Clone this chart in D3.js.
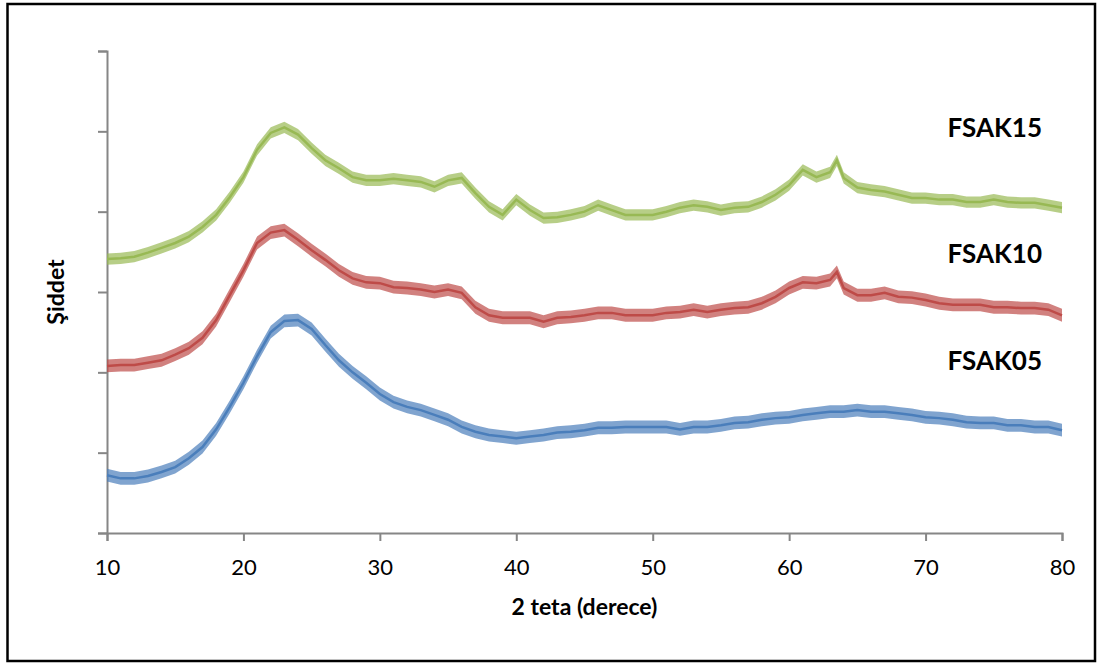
<!DOCTYPE html>
<html>
<head>
<meta charset="utf-8">
<script src="https://cdn.jsdelivr.net/npm/d3@7"></script>
<style>
  body { margin: 0; background: #fff; }
  svg text { font-family: Lato, "Open Sans", sans-serif; }
</style>
</head>
<body>
<div id="chart"></div>
<script>
// 2θ values (degrees) — shared by all three patterns
const angles = [10,11,12,13,14,15,16,17,18,19,20,21,22,23,24,25,26,27,28,29,
  30,31,32,33,34,35,36,37,38,39,40,41,42,43,44,45,46,47,48,49,
  50,51,52,53,54,55,56,57,58,59,60,61,62,63,63.5,64,65,66,67,68,69,
  70,71,72,73,74,75,76,77,78,79,80]

// intensities (arbitrary units; curves are stacked)
const fsak05 = [72,68,68,71,76,82,93,107,129,157,
  187,220,250,264,265,254,234,215,200,187,
  173,163,157,153,147,141,132,126,122,120,
  118,120,122,125,126,128,131,131,132,132,
  132,132,129,132,132,134,137,138,141,143,
  144,147,149,151,151,151,153,151,151,149,147,
  144,143,141,138,137,137,134,134,132,132,128]

const fsak10 = [208,209,209,212,215,222,230,243,265,296,
  327,361,374,377,365,352,340,327,317,312,
  311,306,305,303,300,303,299,281,271,268,
  268,268,263,268,269,271,274,274,271,271,
  271,274,275,278,275,278,280,281,286,294,
  305,312,311,315,325,305,296,296,299,294,293,
  290,286,284,284,284,281,281,280,280,278,271]

const fsak15 = [341,342,344,349,355,361,369,381,396,418,
  443,477,498,505,496,479,464,454,443,439,
  439,441,439,437,431,439,442,423,406,396,
  415,402,392,393,396,400,408,402,396,396,
  396,400,405,408,406,402,405,406,412,421,
  433,452,443,449,464,442,430,427,425,421,417,
  417,415,415,412,412,415,412,411,411,408,405]

const seriesNames = ['FSAK05', 'FSAK10', 'FSAK15']
const seriesColors = ['#4a7ebb', '#be4b48', '#98b954']
// half-width of the measurement noise band, same units
const noiseAmp = [8, 8, 7]

const xTicks = [10, 20, 30, 40, 50, 60, 70, 80]
const yTicks = [0, 100, 200, 300, 400, 500, 600]

let margin = { top: 51, left: 107, right: 35, bottom: 130 },
    W = 1097, H = 663,
    width = W - margin.left - margin.right,
    height = H - margin.top - margin.bottom;

let svg = d3.select('#chart')
  .append('svg')
  .attr('width', W)
  .attr('height', H)

// outer frame
svg.append('rect')
  .attr('x', 7.5).attr('y', 4)
  .attr('width', 1087.5).attr('height', 657)
  .attr('fill', 'none')
  .attr('stroke', '#000')
  .attr('stroke-width', 2.5)

const g = svg.append('g')
  .attr('transform', 'translate(' + margin.left + ',' + margin.top + ')')

const x = d3.scaleLinear().domain([10, 80]).range([0, width])
const y = d3.scaleLinear().domain([0, 600]).range([height, 0])

const xAxis = g.append('g')
  .attr('transform', 'translate(0,' + height + ')')
  .call(d3.axisBottom(x).tickValues(xTicks).tickSize(8).tickPadding(18))

const yAxis = g.append('g')
  .call(d3.axisLeft(y).tickValues(yTicks).tickSize(9).tickFormat(''))

;[xAxis, yAxis].forEach(a => {
  a.selectAll('path, line').attr('stroke', '#868686').attr('stroke-width', 2)
  a.selectAll('text').attr('fill', '#000').style('font-size', '22px')
    .style('font-family', 'Lato, sans-serif')
})

const data = [fsak05, fsak10, fsak15]

const band = (vals, amp) => d3.area()
  .x((d, i) => x(angles[i]))
  .y0((d, i) => y(vals[i] - amp))
  .y1((d, i) => y(vals[i] + amp))

const line = vals => d3.line()
  .x((d, i) => x(angles[i]))
  .y((d, i) => y(vals[i]))

data.forEach((vals, k) => {
  g.append('path')
    .datum(vals)
    .attr('d', band(vals, noiseAmp[k]))
    .attr('fill', seriesColors[k])
    .attr('opacity', 0.7)
  g.append('path')
    .datum(vals)
    .attr('d', line(vals))
    .attr('fill', 'none')
    .attr('stroke', seriesColors[k])
    .attr('stroke-width', 2.5)
})

// series labels, right side
const labelY = [370, 263, 137]
seriesNames.forEach((n, k) => {
  svg.append('text')
    .attr('x', 1042)
    .attr('y', labelY[k])
    .attr('text-anchor', 'end')
    .style('font-size', '26px')
    .style('font-weight', 'bold')
    .text(n)
})

// axis titles
svg.append('text')
  .attr('x', margin.left + width / 2)
  .attr('y', 615)
  .attr('text-anchor', 'middle')
  .style('font-size', '23px')
  .style('font-weight', 'bold')
  .text('2 teta (derece)')

svg.append('text')
  .attr('transform', 'translate(64,' + (margin.top + height / 2) + ') rotate(-90)')
  .attr('text-anchor', 'middle')
  .style('font-size', '23px')
  .style('font-weight', 'bold')
  .text('Şiddet')
</script>
</body>
</html>
